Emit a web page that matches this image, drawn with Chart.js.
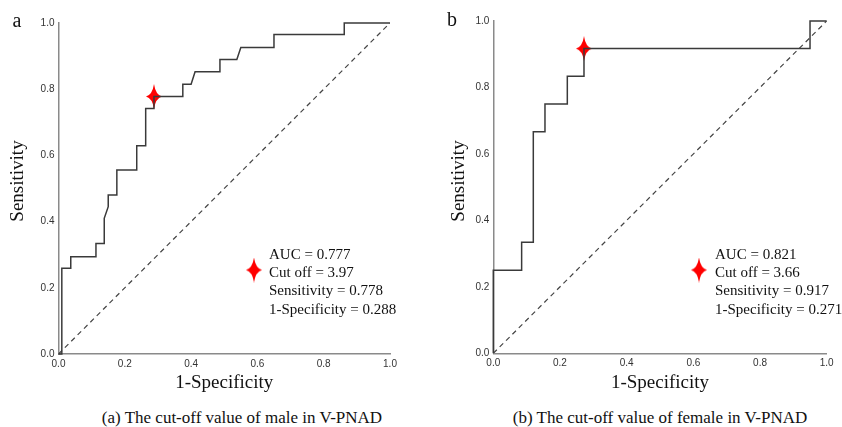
<!DOCTYPE html>
<html>
<head>
<meta charset="utf-8">
<script src="https://cdn.jsdelivr.net/npm/chart.js@4.4.0/dist/chart.umd.min.js"></script>
<style>
body { margin: 0; background: #fff; width: 842px; height: 427px; position: relative; overflow: hidden; font-family: "Liberation Serif", "Times New Roman", serif; }
.box { position: absolute; top: 0; height: 400px; }
#boxA { left: 0; width: 420px; }
#boxB { left: 430px; width: 412px; }
.cap { position: absolute; top: 409px; font-size: 17px; line-height: 1; color: #111; white-space: nowrap; transform: translateX(-50%); }
</style>
</head>
<body>
<div class="box" id="boxA"><canvas id="rocA"></canvas></div>
<div class="box" id="boxB"><canvas id="rocB"></canvas></div>
<div class="cap" style="left:242px">(a) The cut-off value of male in V-PNAD</div>
<div class="cap" style="left:660px">(b) The cut-off value of female in V-PNAD</div>
<script>
// ROC data (1-Specificity, Sensitivity)
const maleFpr = [0, 0.01, 0.01, 0.037, 0.037, 0.113, 0.113, 0.138, 0.138, 0.150, 0.150, 0.176, 0.176, 0.236, 0.236, 0.263, 0.263, 0.288, 0.288, 0.375, 0.375, 0.40, 0.412, 0.487, 0.487, 0.538, 0.550, 0.65, 0.65, 0.862, 0.862, 1.0];
const maleSens = [0, 0, 0.259, 0.259, 0.294, 0.294, 0.334, 0.334, 0.41, 0.445, 0.48, 0.48, 0.556, 0.556, 0.629, 0.629, 0.742, 0.742, 0.778, 0.778, 0.815, 0.815, 0.853, 0.853, 0.89, 0.89, 0.926, 0.926, 0.965, 0.965, 1, 1];
const femaleFpr = [0, 0, 0.085, 0.085, 0.12, 0.12, 0.155, 0.155, 0.222, 0.222, 0.272, 0.272, 0.95, 0.95, 1];
const femaleSens = [0, 0.25, 0.25, 0.334, 0.334, 0.667, 0.667, 0.75, 0.75, 0.834, 0.834, 0.917, 0.917, 1, 1];

// cut-off points
const maleCut = { x: 0.288, y: 0.778 };
const femaleCut = { x: 0.272, y: 0.917 };

// legend text
const maleLegend = ['AUC = 0.777', 'Cut off = 3.97', 'Sensitivity = 0.778', '1-Specificity = 0.288'];
const femaleLegend = ['AUC = 0.821', 'Cut off = 3.66', 'Sensitivity = 0.917', '1-Specificity = 0.271'];

const tickValues = [0, 0.2, 0.4, 0.6, 0.8, 1.0];

// 4-point red star used for the cut-off marker
function makeStar(w, h) {
    const c = document.createElement('canvas');
    c.width = w; c.height = h;
    const g = c.getContext('2d');
    const cx = w / 2, cy = h / 2;
    const dx = w * 0.1, dy = h * 0.07;
    g.fillStyle = '#ff0000';
    g.beginPath();
    g.moveTo(cx, 0);
    g.quadraticCurveTo(cx + dx, cy - dy, w, cy);
    g.quadraticCurveTo(cx + dx, cy + dy, cx, h);
    g.quadraticCurveTo(cx - dx, cy + dy, 0, cy);
    g.quadraticCurveTo(cx - dx, cy - dy, cx, 0);
    g.fill();
    return c;
}
const starImg = makeStar(16, 25);

// draws the letter, axis titles and the little legend
const rocText = {
    id: 'rocText',
    afterDraw(chart) {
        const o = chart.options.plugins.rocText;
        const ctx = chart.ctx;
        const area = chart.chartArea;
        ctx.save();
        ctx.fillStyle = '#111';
        ctx.textBaseline = 'middle';
        ctx.textAlign = 'center';
        ctx.font = '20px "Liberation Serif"';
        ctx.fillText(o.letter, o.letterX, o.letterY);

        ctx.font = '19px "Liberation Serif"';
        ctx.fillText('1-Specificity', (area.left + area.right) / 2, 383);

        ctx.save();
        ctx.translate(o.yTitleX, 181);
        ctx.rotate(-Math.PI / 2);
        ctx.fillText('Sensitivity', 0, 0);
        ctx.restore();

        ctx.drawImage(starImg, o.starX - 8, o.starY - 12.5);
        ctx.textAlign = 'left';
        ctx.font = '15px "Liberation Serif"';
        o.lines.forEach((t, i) => ctx.fillText(t, o.textX, 255 + i * 18.2));
        ctx.restore();
    }
};

function makeRoc(id, fpr, sens, cut, textOpts, yWidth, padRight, padTop, xHeight) {
    const curve = fpr.map((x, i) => ({ x: x, y: sens[i] }));
    const tickFont = { family: '"Liberation Sans", Arial, sans-serif', size: 10 };
    return new Chart(document.getElementById(id), {
        type: 'scatter',
        data: {
            datasets: [
                {
                    data: curve,
                    showLine: true,
                    borderColor: '#3a3a3a',
                    borderWidth: 1.5,
                    pointRadius: 0,
                    clip: 4
                },
                {
                    data: [{ x: 0, y: 0 }, { x: 1, y: 1 }],
                    showLine: true,
                    borderColor: '#444',
                    borderWidth: 1.2,
                    borderDash: [5, 4],
                    pointRadius: 0
                },
                {
                    data: [cut],
                    pointStyle: starImg,
                    pointRadius: 10,
                    clip: false
                }
            ]
        },
        options: {
            responsive: true,
            maintainAspectRatio: false,
            animation: false,
            layout: { padding: { left: 0, right: padRight, top: padTop, bottom: 0 } },
            plugins: { legend: { display: false }, tooltip: { enabled: false }, rocText: textOpts },
            scales: {
                x: {
                    type: 'linear', min: 0, max: 1,
                    afterBuildTicks: s => { s.ticks = tickValues.map(v => ({ value: v })); },
                    ticks: { callback: v => v.toFixed(1), font: tickFont, color: '#333', padding: 4, maxRotation: 0 },
                    grid: { color: 'transparent', drawTicks: false },
                    border: { color: '#8a8a8a', width: 1.5 },
                    afterFit: s => { s.height = xHeight; }
                },
                y: {
                    type: 'linear', min: 0, max: 1,
                    afterBuildTicks: s => { s.ticks = tickValues.map(v => ({ value: v })); },
                    ticks: { callback: v => v.toFixed(1), font: tickFont, color: '#333', padding: 4 },
                    grid: { color: 'transparent', drawTicks: false },
                    border: { color: '#8a8a8a', width: 1.5 },
                    afterFit: s => { s.width = yWidth; }
                }
            }
        },
        plugins: [rocText]
    });
}

makeRoc('rocA', maleFpr, maleSens, maleCut,
    { letter: 'a', letterX: 17, letterY: 22, yTitleX: 18, starX: 254, starY: 270, textX: 269, lines: maleLegend },
    58.5, 30, 23, 46);
makeRoc('rocB', femaleFpr, femaleSens, femaleCut,
    { letter: 'b', letterX: 22, letterY: 21, yTitleX: 29, starX: 269, starY: 270, textX: 285, lines: femaleLegend },
    63.3, 15.3, 21, 46.7);
</script>
</body>
</html>
